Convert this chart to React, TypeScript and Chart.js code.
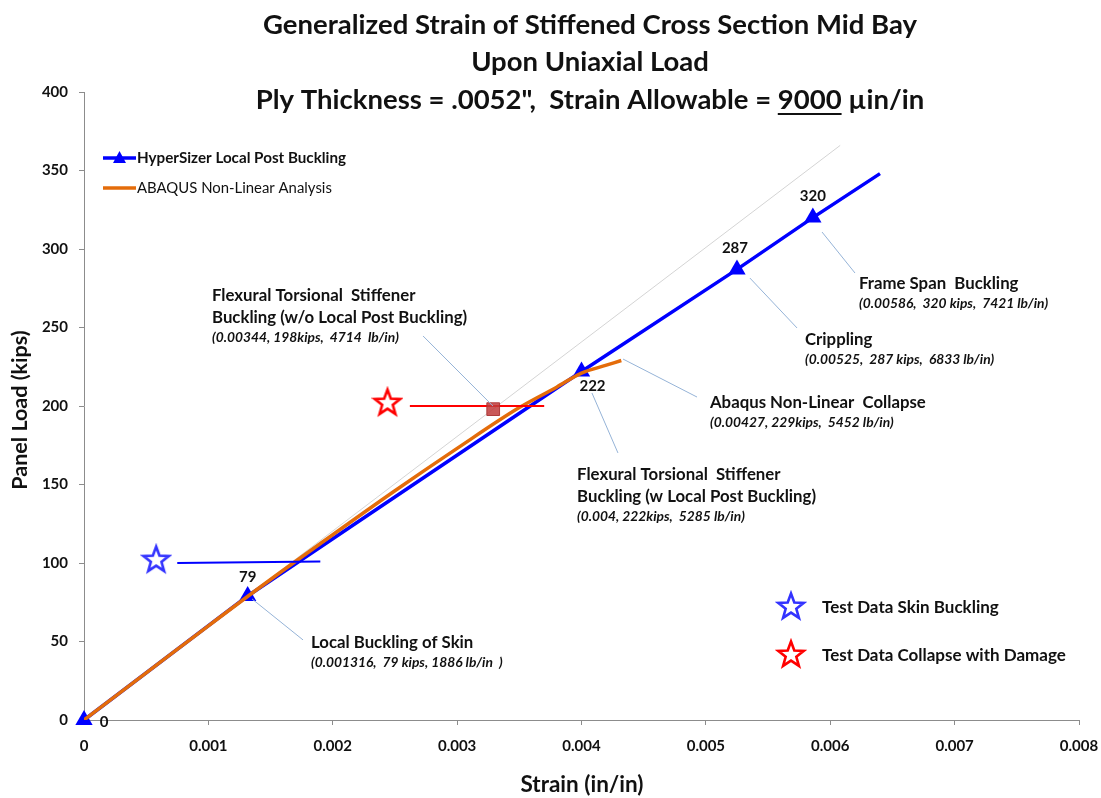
import React, { useEffect, useRef } from 'react';
import { Chart, registerables } from 'chart.js';

Chart.register(...registerables);

const FONT = 'Lato, "Open Sans", "DejaVu Sans", sans-serif';

// ---------- data ----------
const hyperStrain = [0, 0.001316, 0.004, 0.00525, 0.00586, 0.0064];
const hyperLoad = [0, 79, 222, 287, 320, 348];
const hyperPointLabels = ['0', '79', '222', '287', '320', ''];
const hyperLabelOffsets = [[20, 2], [0, -19], [11, 15], [-2, -21], [0, -21], [0, 0]];

const abaqusStrain = [0, 0.0005, 0.001, 0.0015, 0.002, 0.0025, 0.003, 0.0035, 0.0038, 0.004, 0.0042, 0.00432];
const abaqusLoad = [0, 30, 60, 89.5, 118, 146, 173, 199, 212, 221, 226, 229];

const refStrain = [0, 0.00608];
const refLoad = [0, 366];

const skinTestStrain = [0.00058];
const skinTestLoad = [102.5];
const skinBarStrain = [0.00075, 0.0019];
const skinBarLoad = [100, 101];

const collapseTestStrain = [0.00244];
const collapseTestLoad = [202.5];
const collapseBarStrain = [0.00262, 0.0037];
const collapseBarLoad = [200, 200];

const ftNoPostStrain = [0.00329];
const ftNoPostLoad = [198];

const xMin = 0, xMax = 0.008, xStep = 0.001;
const yMin = 0, yMax = 400, yStep = 50;

const titleLines = [
  'Generalized Strain of Stiffened Cross Section Mid Bay',
  'Upon Uniaxial Load',
];
const titleLine3Parts = ['Ply Thickness = .0052",  Strain Allowable = ', '9000', ' \u00b5in/in'];

const xTitle = 'Strain (in/in)';
const yTitle = 'Panel Load (kips)';

const legendTop = ['HyperSizer Local Post Buckling', 'ABAQUS Non-Linear Analysis'];
const legendTest = ['Test Data Skin Buckling', 'Test Data Collapse with Damage'];

// callouts: text anchor (data units), leader line (data units)
const callouts = [
  { bold: ['Flexural Torsional  Stiffener', 'Buckling (w/o Local Post Buckling)'], italic: '(0.00344, 198kips,  4714  lb/in)', at: [0.001029, 270.1], leader: [0.002726, 244.6, 0.003288, 200] },
  { bold: ['Abaqus Non-Linear  Collapse'], italic: '(0.00427, 229kips,  5452 lb/in)', at: [0.005033, 201.9], leader: [0.004334, 229.9, 0.004929, 205.7] },
  { bold: ['Flexural Torsional  Stiffener', 'Buckling (w Local Post Buckling)'], italic: '(0.004, 222kips,  5285 lb/in)', at: [0.003964, 156.1], leader: [0.004084, 208.3, 0.004293, 170.1] },
  { bold: ['Crippling'], italic: '(0.00525,  287 kips,  6833 lb/in)', at: [0.005797, 242], leader: [0.005354, 281.5, 0.005733, 249.7] },
  { bold: ['Frame Span  Buckling'], italic: '(0.00586,  320 kips,  7421 lb/in)', at: [0.006231, 277.7], leader: [0.005934, 310.8, 0.006199, 284.7] },
  { bold: ['Local Buckling of Skin'], italic: '(0.001316,  79 kips, 1886 lb/in  )', at: [0.001825, 49], leader: [0.001351, 77.1, 0.001761, 51] },
];

const BLUE = '#0000FF';
const ORANGE = '#E46C0A';
const STAR_BLUE = '#3333FF';
const STAR_RED = '#FF0000';
const LEADER = '#95B3D7';
const TEXT = '#111111';

function makeStar(color: string): HTMLCanvasElement {
  const c = document.createElement('canvas');
  c.width = 32;
  c.height = 32;
  const g = c.getContext('2d')!;
  const cx = 16, cy = 17, R = 13.5, r = 5.6;
  g.beginPath();
  for (let i = 0; i < 10; i++) {
    const ang = -Math.PI / 2 + (i * Math.PI) / 5;
    const rad = i % 2 === 0 ? R : r;
    const px = cx + rad * Math.cos(ang);
    const py = cy + rad * Math.sin(ang);
    if (i === 0) g.moveTo(px, py);
    else g.lineTo(px, py);
  }
  g.closePath();
  g.fillStyle = '#ffffff';
  g.fill();
  g.lineWidth = 2.6;
  g.lineJoin = 'miter';
  g.strokeStyle = color;
  g.stroke();
  return c;
}

const pts = (xs: number[], ys: number[]) => xs.map((v, i) => ({ x: v, y: ys[i] }));

export default function App() {
  const ref = useRef<HTMLCanvasElement>(null);

  useEffect(() => {
    const canvas = ref.current!;
    const blueStar = makeStar(STAR_BLUE);
    const redStar = makeStar(STAR_RED);

    const overlay = {
      id: 'overlay',
      afterDatasetsDraw(chart: any) {
        const { ctx } = chart;
        const xs = chart.scales.x;
        const ys = chart.scales.y;
        const px = (v: number) => xs.getPixelForValue(v);
        const py = (v: number) => ys.getPixelForValue(v);
        ctx.save();

        // leaders + callouts
        callouts.forEach((c) => {
          ctx.strokeStyle = LEADER;
          ctx.lineWidth = 1;
          ctx.beginPath();
          ctx.moveTo(px(c.leader[0]), py(c.leader[1]));
          ctx.lineTo(px(c.leader[2]), py(c.leader[3]));
          ctx.stroke();
          const x0 = px(c.at[0]);
          const y0 = py(c.at[1]);
          ctx.fillStyle = TEXT;
          ctx.textBaseline = 'middle';
          ctx.textAlign = 'left';
          ctx.font = `bold 16.8px ${FONT}`;
          c.bold.forEach((l, i) => {
            ctx.fillText(l, x0, y0 + i * 22);
          });
          ctx.font = `italic bold 13.8px ${FONT}`;
          ctx.fillText(c.italic, x0, y0 + (c.bold.length - 1) * 22 + 19.5);
        });

        // value labels
        ctx.font = `bold 15px ${FONT}`;
        ctx.textAlign = 'center';
        ctx.textBaseline = 'middle';
        ctx.fillStyle = TEXT;
        hyperPointLabels.forEach((l, i) => {
          if (!l) return;
          ctx.fillText(l, px(hyperStrain[i]) + hyperLabelOffsets[i][0], py(hyperLoad[i]) + hyperLabelOffsets[i][1]);
        });

        // legend (top-left)
        const lx = 103, ly1 = 158, ly2 = 188;
        ctx.lineWidth = 3.5;
        ctx.strokeStyle = BLUE;
        ctx.beginPath();
        ctx.moveTo(lx, ly1);
        ctx.lineTo(lx + 33, ly1);
        ctx.stroke();
        ctx.fillStyle = BLUE;
        ctx.beginPath();
        ctx.moveTo(lx + 16.5, ly1 - 7);
        ctx.lineTo(lx + 23, ly1 + 5);
        ctx.lineTo(lx + 10, ly1 + 5);
        ctx.closePath();
        ctx.fill();
        ctx.strokeStyle = ORANGE;
        ctx.beginPath();
        ctx.moveTo(lx, ly2);
        ctx.lineTo(lx + 33, ly2);
        ctx.stroke();
        ctx.fillStyle = TEXT;
        ctx.textAlign = 'left';
        ctx.font = `bold 15.2px ${FONT}`;
        ctx.fillText(legendTop[0], lx + 34, ly1);
        ctx.font = `14.9px ${FONT}`;
        ctx.fillText(legendTop[1], lx + 34, ly2);

        // legend (test data)
        ctx.drawImage(blueStar, 791 - 16, 607 - 17);
        ctx.drawImage(redStar, 791 - 16, 655 - 17);
        ctx.font = `bold 17px ${FONT}`;
        ctx.fillStyle = TEXT;
        ctx.fillText(legendTest[0], 822, 608);
        ctx.fillText(legendTest[1], 822, 656);

        ctx.restore();
      },
      afterDraw(chart: any) {
        const { ctx } = chart;
        ctx.save();
        ctx.fillStyle = TEXT;
        ctx.textBaseline = 'middle';
        ctx.textAlign = 'center';
        const cx = 590;
        ctx.font = `bold 27.5px ${FONT}`;
        ctx.fillText(titleLines[0], cx, 25);
        ctx.fillText(titleLines[1], cx, 62);
        // third line with underline
        const w0 = ctx.measureText(titleLine3Parts[0]).width;
        const w1 = ctx.measureText(titleLine3Parts[1]).width;
        const w2 = ctx.measureText(titleLine3Parts[2]).width;
        const total = w0 + w1 + w2;
        const sx = cx - total / 2;
        ctx.textAlign = 'left';
        ctx.fillText(titleLine3Parts[0], sx, 100);
        ctx.fillText(titleLine3Parts[1], sx + w0, 100);
        ctx.fillText(titleLine3Parts[2], sx + w0 + w1, 100);
        ctx.strokeStyle = TEXT;
        ctx.lineWidth = 2;
        ctx.beginPath();
        ctx.moveTo(sx + w0, 114);
        ctx.lineTo(sx + w0 + w1, 114);
        ctx.stroke();

        // axis titles
        ctx.textAlign = 'center';
        ctx.font = `bold 22.5px ${FONT}`;
        ctx.fillText(xTitle, 582, 785);
        ctx.translate(20, 410);
        ctx.rotate(-Math.PI / 2);
        ctx.font = `bold 21.5px ${FONT}`;
        ctx.fillText(yTitle, 0, 0);
        ctx.restore();
      },
    };

    const chart = new Chart(canvas, {
      type: 'scatter',
      data: {
        datasets: [
          {
            label: 'star-skin',
            data: pts(skinTestStrain, skinTestLoad),
            pointStyle: blueStar as any,
            pointRadius: 14,
            showLine: false,
            order: 0,
          },
          {
            label: 'star-collapse',
            data: pts(collapseTestStrain, collapseTestLoad),
            pointStyle: redStar as any,
            pointRadius: 14,
            showLine: false,
            order: 1,
          },
          {
            label: 'skin-bar',
            data: pts(skinBarStrain, skinBarLoad),
            showLine: true,
            borderColor: BLUE,
            borderWidth: 2,
            pointRadius: 0,
            order: 2,
          },
          {
            label: 'ft-no-post',
            data: pts(ftNoPostStrain, ftNoPostLoad),
            pointStyle: 'rect',
            pointRadius: 9,
            backgroundColor: 'rgba(192,60,60,0.85)',
            borderColor: 'rgba(170,50,50,0.9)',
            borderWidth: 1,
            showLine: false,
            order: 3,
          },
          {
            label: 'collapse-bar',
            data: pts(collapseBarStrain, collapseBarLoad),
            showLine: true,
            borderColor: STAR_RED,
            borderWidth: 2,
            pointRadius: 0,
            order: 4,
          },
          {
            label: legendTop[1],
            data: pts(abaqusStrain, abaqusLoad),
            showLine: true,
            borderColor: ORANGE,
            borderWidth: 3.5,
            pointRadius: 0,
            cubicInterpolationMode: 'monotone',
            order: 5,
          },
          {
            label: legendTop[0],
            data: pts(hyperStrain, hyperLoad),
            showLine: true,
            borderColor: BLUE,
            backgroundColor: BLUE,
            borderWidth: 3.5,
            pointStyle: 'triangle',
            pointRadius: hyperLoad.map((_, i) => (i < hyperLoad.length - 1 ? 10 : 0)),
            pointBorderWidth: 0,
            clip: false,
            order: 6,
          },
          {
            label: 'reference',
            data: pts(refStrain, refLoad),
            showLine: true,
            borderColor: '#D4D4D4',
            borderWidth: 1,
            pointRadius: 0,
            order: 7,
          },
        ],
      },
      options: {
        animation: false,
        responsive: false,
        maintainAspectRatio: false,
        layout: { padding: { top: 92, right: 22, left: 0, bottom: 0 } },
        plugins: {
          legend: { display: false },
          tooltip: { enabled: false },
          title: { display: false },
        },
        scales: {
          x: {
            type: 'linear',
            min: xMin,
            max: xMax,
            afterFit: (s: any) => {
              s.height = 78;
              s.paddingLeft = 0;
              s.paddingRight = 0;
            },
            ticks: {
              stepSize: xStep,
              color: TEXT,
              font: { family: FONT, size: 15, weight: 'bold' },
              padding: 12,
              maxRotation: 0,
              callback: (v: any) => (Number(v) === 0 ? '0' : Number(v).toFixed(3)),
            },
            grid: { drawOnChartArea: false, drawTicks: true, tickLength: 5, color: '#8C8C8C' },
            border: { color: '#8C8C8C', width: 1 },
          },
          y: {
            type: 'linear',
            min: yMin,
            max: yMax,
            afterFit: (s: any) => {
              s.width = 84;
              s.paddingTop = 0;
              s.paddingBottom = 0;
            },
            ticks: {
              stepSize: yStep,
              color: TEXT,
              font: { family: FONT, size: 15, weight: 'bold' },
              padding: 11,
            },
            grid: { drawOnChartArea: false, drawTicks: true, tickLength: 5, color: '#8C8C8C' },
            border: { color: '#8C8C8C', width: 1 },
          },
        },
      } as any,
      plugins: [overlay],
    });

    return () => chart.destroy();
  }, []);

  return (
    <div style={{ position: 'absolute', left: 0, top: 0, width: 1101, height: 798, background: '#fff' }}>
      <canvas ref={ref} width={1101} height={798} style={{ display: 'block', width: 1101, height: 798 }} />
    </div>
  );
}
